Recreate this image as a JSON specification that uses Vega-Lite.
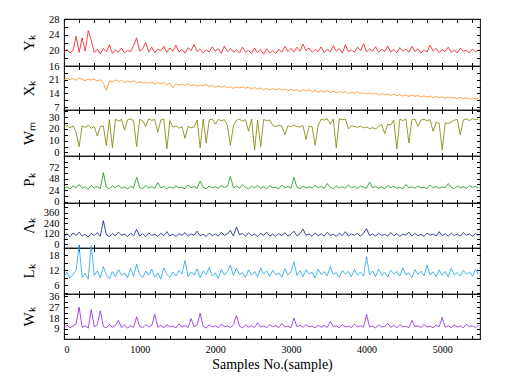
{
  "$schema": "https://vega.github.io/schema/vega-lite/v6.json",
  "padding": {"left": 20, "top": 13, "right": 5, "bottom": 5},
  "spacing": 0,
  "bounds": "flush",
  "config": {
    "font": "Liberation Serif",
    "view": {"stroke": "#1a1a1a", "strokeWidth": 1.1},
    "line": {"strokeWidth": 0.8, "clip": true},
    "axis": {
      "domain": false, "grid": false, "tickSize": -3.5, "tickColor": "#000000", "tickWidth": 1,
      "labelFont": "Liberation Serif", "labelFontSize": 10.5, "labelColor": "#000000", "labelPadding": 8.5, "labelOverlap": false,
      "titleFont": "Liberation Serif", "titleFontWeight": "normal", "titleColor": "#000000", "titleFontSize": 15
    },
    "axisLeft": {"titleX": -31, "titleBaseline": "alphabetic", "titleAngle": 270}
  },
  "data": {"values": [
{"x":0,"Y":19.6,"X":21.0,"Wm":21.5,"P":28,"A":95,"L":9.5,"Wk":10.5},
{"x":40,"Y":20.2,"X":21.8,"Wm":23.0,"P":31,"A":120,"L":11.2,"Wk":12.0},
{"x":80,"Y":19.3,"X":20.9,"Wm":20.8,"P":27,"A":88,"L":8.8,"Wk":9.8},
{"x":120,"Y":20.0,"X":21.6,"Wm":22.4,"P":33,"A":130,"L":10.5,"Wk":11.4},
{"x":160,"Y":23.6,"X":20.7,"Wm":17.0,"P":29,"A":102,"L":12.0,"Wk":13.0},
{"x":200,"Y":19.5,"X":21.9,"Wm":5.0,"P":36,"A":140,"L":22.0,"Wk":27.0},
{"x":240,"Y":23.2,"X":21.1,"Wm":22.6,"P":28,"A":96,"L":9.2,"Wk":10.2},
{"x":280,"Y":19.8,"X":20.5,"Wm":21.2,"P":31,"A":115,"L":10.8,"Wk":11.6},
{"x":320,"Y":25.0,"X":21.4,"Wm":23.1,"P":26,"A":85,"L":8.5,"Wk":9.5},
{"x":360,"Y":22.6,"X":20.8,"Wm":20.5,"P":34,"A":125,"L":22.0,"Wk":25.0},
{"x":400,"Y":19.4,"X":21.2,"Wm":22.0,"P":29,"A":100,"L":10.0,"Wk":10.8},
{"x":440,"Y":20.3,"X":20.3,"Wm":14.0,"P":32,"A":135,"L":11.8,"Wk":12.3},
{"x":480,"Y":19.1,"X":21.0,"Wm":21.8,"P":27,"A":92,"L":9.0,"Wk":24.0},
{"x":520,"Y":20.5,"X":19.2,"Wm":22.5,"P":61,"A":270,"L":13.5,"Wk":11.0},
{"x":560,"Y":19.6,"X":15.5,"Wm":6.0,"P":30,"A":110,"L":10.2,"Wk":9.7},
{"x":600,"Y":21.4,"X":20.4,"Wm":27.8,"P":27,"A":90,"L":8.7,"Wk":12.5},
{"x":640,"Y":19.2,"X":19.8,"Wm":4.0,"P":33,"A":125,"L":11.5,"Wk":10.4},
{"x":680,"Y":20.1,"X":20.9,"Wm":28.3,"P":29,"A":98,"L":9.4,"Wk":11.8},
{"x":720,"Y":19.5,"X":20.1,"Wm":26.5,"P":35,"A":140,"L":12.3,"Wk":16.0},
{"x":760,"Y":20.6,"X":20.6,"Wm":28.0,"P":28,"A":105,"L":10.1,"Wk":10.1},
{"x":800,"Y":19.3,"X":19.5,"Wm":19.0,"P":31,"A":118,"L":11.0,"Wk":12.2},
{"x":840,"Y":20.0,"X":20.3,"Wm":27.6,"P":27,"A":90,"L":8.9,"Wk":9.6},
{"x":880,"Y":19.7,"X":19.7,"Wm":28.4,"P":32,"A":128,"L":12.8,"Wk":11.5},
{"x":920,"Y":21.2,"X":20.5,"Wm":26.8,"P":29,"A":100,"L":9.6,"Wk":10.3},
{"x":960,"Y":23.2,"X":19.4,"Wm":5.0,"P":51,"A":170,"L":14.5,"Wk":19.0},
{"x":1000,"Y":19.8,"X":20.0,"Wm":28.1,"P":30,"A":95,"L":10.3,"Wk":11.0},
{"x":1040,"Y":20.4,"X":19.2,"Wm":27.0,"P":27,"A":122,"L":9.1,"Wk":9.9},
{"x":1080,"Y":22.0,"X":19.9,"Wm":22.0,"P":34,"A":88,"L":11.7,"Wk":12.4},
{"x":1120,"Y":19.6,"X":19.0,"Wm":28.5,"P":29,"A":132,"L":10.0,"Wk":10.6},
{"x":1160,"Y":20.8,"X":19.8,"Wm":27.2,"P":31,"A":104,"L":12.5,"Wk":11.7},
{"x":1200,"Y":19.4,"X":18.7,"Wm":28.0,"P":28,"A":116,"L":9.3,"Wk":21.0},
{"x":1240,"Y":20.3,"X":19.5,"Wm":17.0,"P":40,"A":92,"L":11.0,"Wk":10.2},
{"x":1280,"Y":19.9,"X":18.9,"Wm":27.5,"P":29,"A":126,"L":8.6,"Wk":11.9},
{"x":1320,"Y":21.0,"X":19.6,"Wm":28.3,"P":32,"A":100,"L":13.0,"Wk":9.8},
{"x":1360,"Y":19.5,"X":18.4,"Wm":3.0,"P":27,"A":145,"L":10.4,"Wk":12.6},
{"x":1400,"Y":20.6,"X":19.3,"Wm":27.0,"P":31,"A":96,"L":9.2,"Wk":10.5},
{"x":1440,"Y":19.8,"X":17.0,"Wm":21.5,"P":28,"A":118,"L":11.4,"Wk":11.3},
{"x":1480,"Y":21.3,"X":18.9,"Wm":22.4,"P":33,"A":90,"L":9.8,"Wk":9.7},
{"x":1520,"Y":19.6,"X":18.2,"Wm":20.6,"P":29,"A":124,"L":12.0,"Wk":13.2},
{"x":1560,"Y":20.2,"X":18.8,"Wm":21.8,"P":30,"A":102,"L":10.5,"Wk":10.4},
{"x":1600,"Y":19.3,"X":18.0,"Wm":12.0,"P":27,"A":135,"L":16.0,"Wk":11.8},
{"x":1640,"Y":20.7,"X":18.9,"Wm":22.0,"P":35,"A":94,"L":9.5,"Wk":10.0},
{"x":1680,"Y":19.9,"X":17.8,"Wm":20.9,"P":29,"A":120,"L":11.3,"Wk":17.5},
{"x":1720,"Y":21.5,"X":18.5,"Wm":21.6,"P":32,"A":105,"L":10.1,"Wk":10.8},
{"x":1760,"Y":19.7,"X":17.6,"Wm":27.5,"P":28,"A":150,"L":12.6,"Wk":12.0},
{"x":1800,"Y":20.3,"X":18.3,"Wm":4.0,"P":43,"A":98,"L":9.0,"Wk":22.0},
{"x":1840,"Y":19.4,"X":17.9,"Wm":28.2,"P":30,"A":115,"L":11.8,"Wk":11.1},
{"x":1880,"Y":20.1,"X":18.6,"Wm":8.0,"P":27,"A":92,"L":10.3,"Wk":9.6},
{"x":1920,"Y":19.6,"X":17.4,"Wm":27.6,"P":33,"A":128,"L":13.2,"Wk":12.3},
{"x":1960,"Y":20.9,"X":18.1,"Wm":28.4,"P":29,"A":100,"L":9.7,"Wk":10.5},
{"x":2000,"Y":19.8,"X":17.2,"Wm":24.0,"P":31,"A":120,"L":11.0,"Wk":11.5},
{"x":2040,"Y":20.4,"X":17.9,"Wm":28.0,"P":28,"A":95,"L":8.8,"Wk":9.9},
{"x":2080,"Y":19.2,"X":17.0,"Wm":26.9,"P":34,"A":138,"L":12.4,"Wk":13.0},
{"x":2120,"Y":21.1,"X":17.8,"Wm":27.8,"P":30,"A":104,"L":10.2,"Wk":10.7},
{"x":2160,"Y":19.7,"X":16.9,"Wm":23.0,"P":32,"A":118,"L":11.5,"Wk":11.4},
{"x":2200,"Y":20.5,"X":17.5,"Wm":6.0,"P":53,"A":160,"L":14.0,"Wk":10.0},
{"x":2240,"Y":19.5,"X":16.5,"Wm":22.6,"P":29,"A":96,"L":9.9,"Wk":12.6},
{"x":2280,"Y":20.2,"X":17.3,"Wm":27.3,"P":33,"A":200,"L":12.8,"Wk":20.0},
{"x":2320,"Y":19.3,"X":16.8,"Wm":28.1,"P":28,"A":110,"L":10.4,"Wk":11.2},
{"x":2360,"Y":20.8,"X":17.4,"Wm":26.4,"P":36,"A":125,"L":11.1,"Wk":9.8},
{"x":2400,"Y":19.6,"X":16.6,"Wm":27.9,"P":30,"A":94,"L":9.2,"Wk":12.1},
{"x":2440,"Y":20.0,"X":17.2,"Wm":18.0,"P":27,"A":132,"L":12.2,"Wk":10.4},
{"x":2480,"Y":19.1,"X":16.3,"Wm":28.2,"P":32,"A":100,"L":10.0,"Wk":11.7},
{"x":2520,"Y":20.6,"X":17.0,"Wm":2.0,"P":29,"A":118,"L":11.6,"Wk":10.1},
{"x":2560,"Y":19.4,"X":16.1,"Wm":27.4,"P":34,"A":90,"L":9.4,"Wk":14.0},
{"x":2600,"Y":20.2,"X":16.8,"Wm":5.0,"P":28,"A":126,"L":13.0,"Wk":10.6},
{"x":2640,"Y":19.0,"X":15.9,"Wm":28.0,"P":31,"A":104,"L":10.5,"Wk":11.3},
{"x":2680,"Y":20.4,"X":16.6,"Wm":26.8,"P":27,"A":140,"L":11.8,"Wk":9.9},
{"x":2720,"Y":19.3,"X":15.7,"Wm":27.6,"P":33,"A":95,"L":9.6,"Wk":12.4},
{"x":2760,"Y":19.9,"X":16.4,"Wm":22.8,"P":29,"A":118,"L":12.1,"Wk":10.7},
{"x":2800,"Y":19.2,"X":15.8,"Wm":21.9,"P":30,"A":92,"L":10.2,"Wk":11.6},
{"x":2840,"Y":20.3,"X":16.5,"Wm":23.0,"P":27,"A":124,"L":11.0,"Wk":10.0},
{"x":2880,"Y":19.5,"X":15.6,"Wm":22.2,"P":35,"A":100,"L":9.3,"Wk":13.5},
{"x":2920,"Y":21.0,"X":16.2,"Wm":15.0,"P":29,"A":135,"L":12.7,"Wk":10.5},
{"x":2960,"Y":19.7,"X":15.3,"Wm":22.6,"P":32,"A":96,"L":10.1,"Wk":11.2},
{"x":3000,"Y":20.5,"X":16.1,"Wm":21.8,"P":28,"A":115,"L":11.4,"Wk":9.8},
{"x":3040,"Y":19.6,"X":15.4,"Wm":23.2,"P":51,"A":150,"L":15.5,"Wk":18.0},
{"x":3080,"Y":20.8,"X":15.9,"Wm":22.0,"P":30,"A":98,"L":10.0,"Wk":10.9},
{"x":3120,"Y":19.8,"X":15.0,"Wm":21.5,"P":27,"A":122,"L":11.9,"Wk":11.8},
{"x":3160,"Y":21.6,"X":15.8,"Wm":22.9,"P":33,"A":175,"L":9.5,"Wk":10.2},
{"x":3200,"Y":19.9,"X":15.2,"Wm":11.0,"P":29,"A":104,"L":12.3,"Wk":12.5},
{"x":3240,"Y":20.6,"X":15.9,"Wm":22.4,"P":31,"A":118,"L":10.6,"Wk":10.6},
{"x":3280,"Y":19.5,"X":14.9,"Wm":21.7,"P":28,"A":92,"L":11.2,"Wk":11.3},
{"x":3320,"Y":20.2,"X":15.5,"Wm":6.0,"P":34,"A":130,"L":9.0,"Wk":9.7},
{"x":3360,"Y":19.7,"X":14.6,"Wm":22.8,"P":29,"A":100,"L":12.5,"Wk":12.0},
{"x":3400,"Y":20.9,"X":15.3,"Wm":28.2,"P":32,"A":120,"L":10.3,"Wk":10.4},
{"x":3440,"Y":19.4,"X":14.8,"Wm":27.5,"P":28,"A":95,"L":11.5,"Wk":11.9},
{"x":3480,"Y":20.3,"X":15.4,"Wm":28.6,"P":38,"A":138,"L":9.8,"Wk":10.1},
{"x":3520,"Y":19.6,"X":14.5,"Wm":24.0,"P":30,"A":102,"L":13.5,"Wk":15.0},
{"x":3560,"Y":21.2,"X":15.1,"Wm":28.3,"P":27,"A":115,"L":10.4,"Wk":10.8},
{"x":3600,"Y":19.8,"X":14.3,"Wm":4.0,"P":33,"A":92,"L":11.1,"Wk":11.5},
{"x":3640,"Y":20.5,"X":15.0,"Wm":28.5,"P":29,"A":128,"L":9.2,"Wk":9.9},
{"x":3680,"Y":19.3,"X":14.4,"Wm":27.7,"P":31,"A":100,"L":12.0,"Wk":12.3},
{"x":3720,"Y":21.4,"X":14.9,"Wm":28.4,"P":28,"A":145,"L":10.5,"Wk":10.6},
{"x":3760,"Y":19.7,"X":13.9,"Wm":20.0,"P":35,"A":96,"L":11.6,"Wk":11.4},
{"x":3800,"Y":20.1,"X":14.6,"Wm":22.6,"P":29,"A":118,"L":9.4,"Wk":10.0},
{"x":3840,"Y":19.5,"X":14.1,"Wm":22.0,"P":32,"A":104,"L":12.4,"Wk":12.8},
{"x":3880,"Y":20.8,"X":14.8,"Wm":21.4,"P":27,"A":125,"L":10.1,"Wk":10.5},
{"x":3920,"Y":19.9,"X":13.8,"Wm":22.3,"P":33,"A":92,"L":11.3,"Wk":11.6},
{"x":3960,"Y":21.7,"X":14.4,"Wm":20.9,"P":30,"A":130,"L":9.7,"Wk":10.2},
{"x":4000,"Y":19.6,"X":13.6,"Wm":21.6,"P":28,"A":180,"L":17.5,"Wk":21.0},
{"x":4040,"Y":20.4,"X":14.3,"Wm":20.2,"P":41,"A":100,"L":10.2,"Wk":10.7},
{"x":4080,"Y":19.8,"X":13.5,"Wm":21.0,"P":29,"A":120,"L":11.8,"Wk":11.3},
{"x":4120,"Y":20.9,"X":14.1,"Wm":19.8,"P":32,"A":94,"L":9.5,"Wk":9.8},
{"x":4160,"Y":19.5,"X":13.2,"Wm":22.5,"P":28,"A":128,"L":12.6,"Wk":12.2},
{"x":4200,"Y":20.3,"X":13.9,"Wm":23.6,"P":31,"A":102,"L":10.0,"Wk":10.5},
{"x":4240,"Y":19.7,"X":13.3,"Wm":16.0,"P":27,"A":115,"L":11.2,"Wk":11.0},
{"x":4280,"Y":21.1,"X":13.8,"Wm":24.0,"P":34,"A":96,"L":9.3,"Wk":13.5},
{"x":4320,"Y":19.6,"X":12.9,"Wm":23.2,"P":29,"A":135,"L":12.1,"Wk":10.3},
{"x":4360,"Y":20.2,"X":13.6,"Wm":27.6,"P":32,"A":100,"L":10.6,"Wk":11.8},
{"x":4400,"Y":19.4,"X":12.8,"Wm":3.0,"P":28,"A":122,"L":11.5,"Wk":10.0},
{"x":4440,"Y":20.7,"X":13.4,"Wm":28.2,"P":30,"A":92,"L":9.6,"Wk":12.4},
{"x":4480,"Y":19.8,"X":12.6,"Wm":27.0,"P":27,"A":118,"L":13.0,"Wk":10.6},
{"x":4520,"Y":20.3,"X":13.3,"Wm":28.5,"P":36,"A":104,"L":10.3,"Wk":11.2},
{"x":4560,"Y":19.5,"X":12.4,"Wm":8.0,"P":29,"A":140,"L":11.0,"Wk":9.9},
{"x":4600,"Y":21.0,"X":13.1,"Wm":27.8,"P":31,"A":95,"L":9.1,"Wk":16.0},
{"x":4640,"Y":19.7,"X":12.5,"Wm":28.3,"P":28,"A":126,"L":12.3,"Wk":10.8},
{"x":4680,"Y":20.4,"X":12.9,"Wm":22.0,"P":33,"A":100,"L":10.4,"Wk":11.5},
{"x":4720,"Y":19.3,"X":12.1,"Wm":27.5,"P":29,"A":115,"L":11.7,"Wk":10.1},
{"x":4760,"Y":20.1,"X":12.8,"Wm":28.1,"P":30,"A":92,"L":9.8,"Wk":12.6},
{"x":4800,"Y":19.6,"X":12.0,"Wm":26.9,"P":27,"A":130,"L":14.0,"Wk":10.4},
{"x":4840,"Y":21.3,"X":12.6,"Wm":27.8,"P":35,"A":104,"L":10.2,"Wk":11.3},
{"x":4880,"Y":19.8,"X":11.8,"Wm":18.0,"P":29,"A":118,"L":11.4,"Wk":9.8},
{"x":4920,"Y":20.5,"X":12.5,"Wm":25.5,"P":32,"A":96,"L":9.5,"Wk":12.1},
{"x":4960,"Y":19.4,"X":11.7,"Wm":24.8,"P":28,"A":145,"L":12.2,"Wk":10.7},
{"x":5000,"Y":20.2,"X":12.3,"Wm":2.0,"P":31,"A":100,"L":10.0,"Wk":18.5},
{"x":5040,"Y":19.7,"X":11.5,"Wm":25.2,"P":29,"A":122,"L":11.6,"Wk":10.3},
{"x":5080,"Y":20.8,"X":12.2,"Wm":24.6,"P":38,"A":94,"L":9.4,"Wk":11.6},
{"x":5120,"Y":19.5,"X":11.6,"Wm":25.8,"P":30,"A":128,"L":12.8,"Wk":10.0},
{"x":5160,"Y":20.1,"X":12.0,"Wm":27.3,"P":27,"A":102,"L":10.3,"Wk":12.2},
{"x":5200,"Y":19.3,"X":11.3,"Wm":28.0,"P":33,"A":115,"L":11.1,"Wk":10.5},
{"x":5240,"Y":20.6,"X":11.9,"Wm":15.0,"P":29,"A":96,"L":9.7,"Wk":11.4},
{"x":5280,"Y":19.8,"X":11.2,"Wm":27.6,"P":31,"A":135,"L":12.0,"Wk":9.9},
{"x":5320,"Y":20.0,"X":11.8,"Wm":28.4,"P":28,"A":104,"L":10.5,"Wk":12.7},
{"x":5360,"Y":19.4,"X":11.0,"Wm":27.1,"P":34,"A":120,"L":11.3,"Wk":10.8},
{"x":5400,"Y":20.3,"X":11.7,"Wm":28.6,"P":30,"A":92,"L":9.6,"Wk":11.5},
{"x":5440,"Y":19.6,"X":11.1,"Wm":27.9,"P":32,"A":125,"L":12.4,"Wk":10.2},
{"x":5480,"Y":20.1,"X":11.6,"Wm":28.5,"P":29,"A":100,"L":10.4,"Wk":12.0}
  ]},
  "vconcat": [
    {"width": 416, "height": 47, "layer": [
      {"mark": {"type": "line", "color": "#f01414"},
       "encoding": {
         "x": {"field": "x", "type": "quantitative", "scale": {"domain": [0, 5500], "nice": false}, "axis": {"orient": "bottom", "title": null, "labels": false, "values": [0,200,400,600,800,1000,1200,1400,1600,1800,2000,2200,2400,2600,2800,3000,3200,3400,3600,3800,4000,4200,4400,4600,4800,5000,5200,5400]}},
         "y": {"field": "Y", "type": "quantitative", "scale": {"domain": [16, 28], "nice": false}, "axis": {"orient": "left", "title": "Yₖ", "values": [16, 18, 20, 22, 24, 26, 28], "labelExpr": "datum.value % 4 === 0 ? datum.label : ''"}}
       }},
      {"mark": {"type": "line", "opacity": 0},
       "encoding": {
         "x": {"field": "x", "type": "quantitative", "axis": {"orient": "top", "title": null, "labels": false, "values": [0,200,400,600,800,1000,1200,1400,1600,1800,2000,2200,2400,2600,2800,3000,3200,3400,3600,3800,4000,4200,4400,4600,4800,5000,5200,5400]}},
         "y": {"field": "Y", "type": "quantitative", "axis": {"orient": "right", "title": null, "labels": false, "values": [16, 18, 20, 22, 24, 26, 28]}}
       }}
    ]},
    {"width": 416, "height": 44, "layer": [
      {"mark": {"type": "line", "color": "#ff8c1a"},
       "encoding": {
         "x": {"field": "x", "type": "quantitative", "scale": {"domain": [0, 5500], "nice": false}, "axis": {"orient": "bottom", "title": null, "labels": false, "values": [0,200,400,600,800,1000,1200,1400,1600,1800,2000,2200,2400,2600,2800,3000,3200,3400,3600,3800,4000,4200,4400,4600,4800,5000,5200,5400]}},
         "y": {"field": "X", "type": "quantitative", "scale": {"domain": [5.5, 28], "nice": false}, "axis": {"orient": "left", "title": "Xₖ", "values": [7, 10.5, 14, 17.5, 21, 24.5], "labelExpr": "datum.value % 7 === 0 ? datum.label : ''"}}
       }},
      {"mark": {"type": "line", "opacity": 0},
       "encoding": {
         "x": {"field": "x", "type": "quantitative", "axis": {"orient": "top", "title": null, "labels": false, "values": [0,200,400,600,800,1000,1200,1400,1600,1800,2000,2200,2400,2600,2800,3000,3200,3400,3600,3800,4000,4200,4400,4600,4800,5000,5200,5400]}},
         "y": {"field": "X", "type": "quantitative", "axis": {"orient": "right", "title": null, "labels": false, "values": [7, 10.5, 14, 17.5, 21, 24.5]}}
       }}
    ]},
    {"width": 416, "height": 46, "layer": [
      {"mark": {"type": "line", "color": "#7d7d00"},
       "encoding": {
         "x": {"field": "x", "type": "quantitative", "scale": {"domain": [0, 5500], "nice": false}, "axis": {"orient": "bottom", "title": null, "labels": false, "values": [0,200,400,600,800,1000,1200,1400,1600,1800,2000,2200,2400,2600,2800,3000,3200,3400,3600,3800,4000,4200,4400,4600,4800,5000,5200,5400]}},
         "y": {"field": "Wm", "type": "quantitative", "scale": {"domain": [-3, 36], "nice": false}, "axis": {"orient": "left", "title": "Wₘ", "values": [0, 5, 10, 15, 20, 25, 30, 35], "labelExpr": "datum.value % 10 === 0 ? datum.label : ''"}}
       }},
      {"mark": {"type": "line", "opacity": 0},
       "encoding": {
         "x": {"field": "x", "type": "quantitative", "axis": {"orient": "top", "title": null, "labels": false, "values": [0,200,400,600,800,1000,1200,1400,1600,1800,2000,2200,2400,2600,2800,3000,3200,3400,3600,3800,4000,4200,4400,4600,4800,5000,5200,5400]}},
         "y": {"field": "Wm", "type": "quantitative", "axis": {"orient": "right", "title": null, "labels": false, "values": [0, 5, 10, 15, 20, 25, 30, 35]}}
       }}
    ]},
    {"width": 416, "height": 47, "layer": [
      {"mark": {"type": "line", "color": "#14911a"},
       "encoding": {
         "x": {"field": "x", "type": "quantitative", "scale": {"domain": [0, 5500], "nice": false}, "axis": {"orient": "bottom", "title": null, "labels": false, "values": [0,200,400,600,800,1000,1200,1400,1600,1800,2000,2200,2400,2600,2800,3000,3200,3400,3600,3800,4000,4200,4400,4600,4800,5000,5200,5400]}},
         "y": {"field": "P", "type": "quantitative", "scale": {"domain": [-3, 96], "nice": false}, "axis": {"orient": "left", "title": "Pₖ", "values": [0, 12, 24, 36, 48, 60, 72, 84], "labelExpr": "datum.value % 24 === 0 ? datum.label : ''"}}
       }},
      {"mark": {"type": "line", "opacity": 0},
       "encoding": {
         "x": {"field": "x", "type": "quantitative", "axis": {"orient": "top", "title": null, "labels": false, "values": [0,200,400,600,800,1000,1200,1400,1600,1800,2000,2200,2400,2600,2800,3000,3200,3400,3600,3800,4000,4200,4400,4600,4800,5000,5200,5400]}},
         "y": {"field": "P", "type": "quantitative", "axis": {"orient": "right", "title": null, "labels": false, "values": [0, 12, 24, 36, 48, 60, 72, 84]}}
       }}
    ]},
    {"width": 416, "height": 45, "layer": [
      {"mark": {"type": "line", "color": "#0d1a80"},
       "encoding": {
         "x": {"field": "x", "type": "quantitative", "scale": {"domain": [0, 5500], "nice": false}, "axis": {"orient": "bottom", "title": null, "labels": false, "values": [0,200,400,600,800,1000,1200,1400,1600,1800,2000,2200,2400,2600,2800,3000,3200,3400,3600,3800,4000,4200,4400,4600,4800,5000,5200,5400]}},
         "y": {"field": "A", "type": "quantitative", "scale": {"domain": [-40, 470], "nice": false}, "axis": {"orient": "left", "title": "Λₖ", "values": [0, 60, 120, 180, 240, 300, 360, 420], "labelExpr": "datum.value % 120 === 0 ? datum.label : ''"}}
       }},
      {"mark": {"type": "line", "opacity": 0},
       "encoding": {
         "x": {"field": "x", "type": "quantitative", "axis": {"orient": "top", "title": null, "labels": false, "values": [0,200,400,600,800,1000,1200,1400,1600,1800,2000,2200,2400,2600,2800,3000,3200,3400,3600,3800,4000,4200,4400,4600,4800,5000,5200,5400]}},
         "y": {"field": "A", "type": "quantitative", "axis": {"orient": "right", "title": null, "labels": false, "values": [0, 60, 120, 180, 240, 300, 360, 420]}}
       }}
    ]},
    {"width": 416, "height": 46, "layer": [
      {"mark": {"type": "line", "color": "#1ca3ec"},
       "encoding": {
         "x": {"field": "x", "type": "quantitative", "scale": {"domain": [0, 5500], "nice": false}, "axis": {"orient": "bottom", "title": null, "labels": false, "values": [0,200,400,600,800,1000,1200,1400,1600,1800,2000,2200,2400,2600,2800,3000,3200,3400,3600,3800,4000,4200,4400,4600,4800,5000,5200,5400]}},
         "y": {"field": "L", "type": "quantitative", "scale": {"domain": [2.5, 21], "nice": false}, "axis": {"orient": "left", "title": "Lₖ", "values": [3, 6, 9, 12, 15, 18, 21], "labelExpr": "datum.value % 6 === 0 ? datum.label : ''"}}
       }},
      {"mark": {"type": "line", "opacity": 0},
       "encoding": {
         "x": {"field": "x", "type": "quantitative", "axis": {"orient": "top", "title": null, "labels": false, "values": [0,200,400,600,800,1000,1200,1400,1600,1800,2000,2200,2400,2600,2800,3000,3200,3400,3600,3800,4000,4200,4400,4600,4800,5000,5200,5400]}},
         "y": {"field": "L", "type": "quantitative", "axis": {"orient": "right", "title": null, "labels": false, "values": [3, 6, 9, 12, 15, 18, 21]}}
       }}
    ]},
    {"width": 416, "height": 45, "layer": [
      {"mark": {"type": "line", "color": "#8a1ee6"},
       "encoding": {
         "x": {"field": "x", "type": "quantitative", "scale": {"domain": [0, 5500], "nice": false}, "axis": {"orient": "bottom", "title": "Samples No.(sample)", "titleFontSize": 14, "titlePadding": 3, "format": "d", "labelExpr": "datum.value % 1000 === 0 ? datum.label : ''", "labelFontSize": 10, "values": [0,200,400,600,800,1000,1200,1400,1600,1800,2000,2200,2400,2600,2800,3000,3200,3400,3600,3800,4000,4200,4400,4600,4800,5000,5200,5400]}},
         "y": {"field": "Wk", "type": "quantitative", "scale": {"domain": [0.5, 38], "nice": false}, "axis": {"orient": "left", "title": "Wₖ", "values": [4.5, 9, 13.5, 18, 22.5, 27, 31.5, 36], "labelExpr": "datum.value % 9 === 0 ? datum.label : ''"}}
       }},
      {"mark": {"type": "line", "opacity": 0},
       "encoding": {
         "x": {"field": "x", "type": "quantitative", "axis": {"orient": "top", "title": null, "labels": false, "values": [0,200,400,600,800,1000,1200,1400,1600,1800,2000,2200,2400,2600,2800,3000,3200,3400,3600,3800,4000,4200,4400,4600,4800,5000,5200,5400]}},
         "y": {"field": "Wk", "type": "quantitative", "axis": {"orient": "right", "title": null, "labels": false, "values": [4.5, 9, 13.5, 18, 22.5, 27, 31.5, 36]}}
       }}
    ]}
  ]
}
